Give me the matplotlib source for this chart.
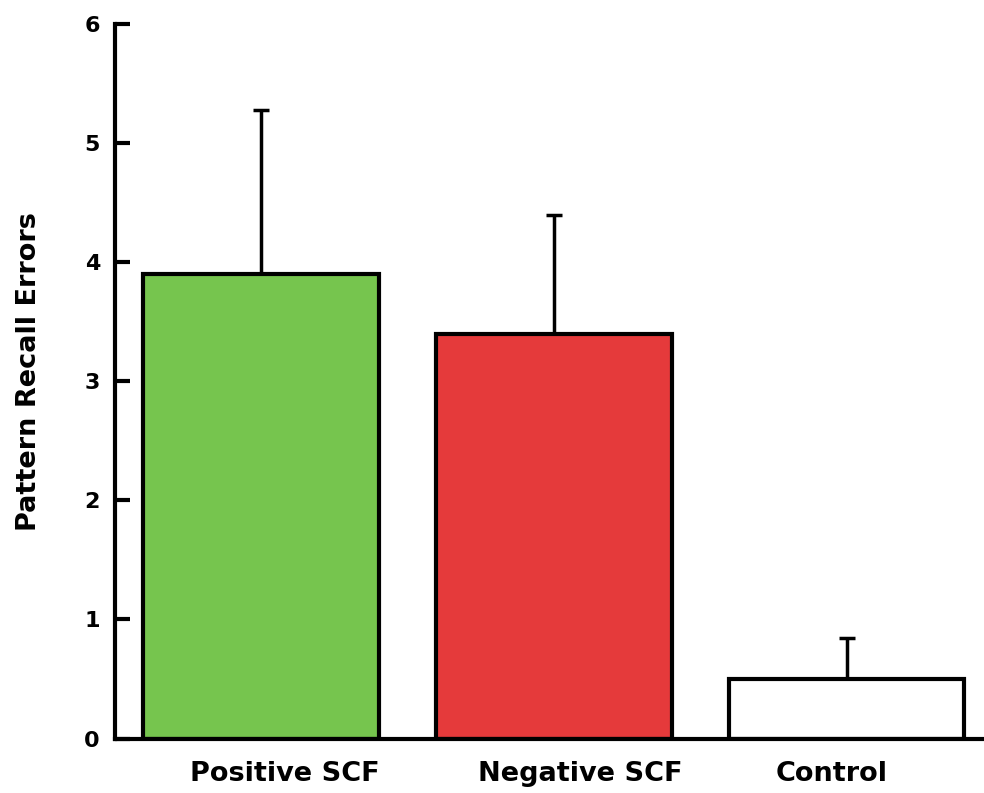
import numpy as np
import matplotlib.pyplot as plt

plt.rcParams['font.family'] = ['DejaVu Sans']
plt.rcParams['font.weight'] = 'bold'

# mean recall errors per group, with upper error only
groups = ['Positive SCF', 'Negative SCF', 'Control']
means = [3.9, 3.4, 0.5]
errors = [1.38, 1.0, 0.34]
colors = ['#76c54e', '#e53a3b', '#ffffff']
# group names sit a little off the bar centres
label_shift = [0.082, 0.089, -0.050]

fig = plt.figure(figsize=(9.84, 7.93), dpi=100)
ax = fig.add_axes([0.1164, 0.0687, 1.0 - 0.1164, 0.9697 - 0.0687])

x = np.arange(len(groups))
ax.bar(x, means, width=0.804, color=colors, edgecolor='black',
       linewidth=3.0, zorder=2)
ax.errorbar(x, means, yerr=[np.zeros(len(means)), errors], fmt='none',
            ecolor='black', elinewidth=2.5, capsize=5.9, capthick=2.5,
            zorder=1)

ax.set_xlim(-0.5, 2.469)
ax.set_ylim(0, 6)
ax.set_yticks(range(7))
ax.set_xticks(x + np.array(label_shift))
ax.set_xticklabels(groups, fontsize=19.5, fontweight='bold')
ax.tick_params(axis='y', direction='in', length=11, width=3.0,
               labelsize=16, pad=10.5)
ax.tick_params(axis='x', length=0, pad=16)
for lab in ax.get_yticklabels():
    lab.set_fontweight('bold')

ax.set_ylabel('Pattern Recall Errors', fontsize=19.5, fontweight='bold')
ax.yaxis.set_label_coords(-0.084, 0.5136)

ax.spines['top'].set_visible(False)
ax.spines['right'].set_visible(False)
ax.spines['left'].set_linewidth(3.0)
ax.spines['bottom'].set_linewidth(3.0)

plt.savefig('out.png', dpi=100)
